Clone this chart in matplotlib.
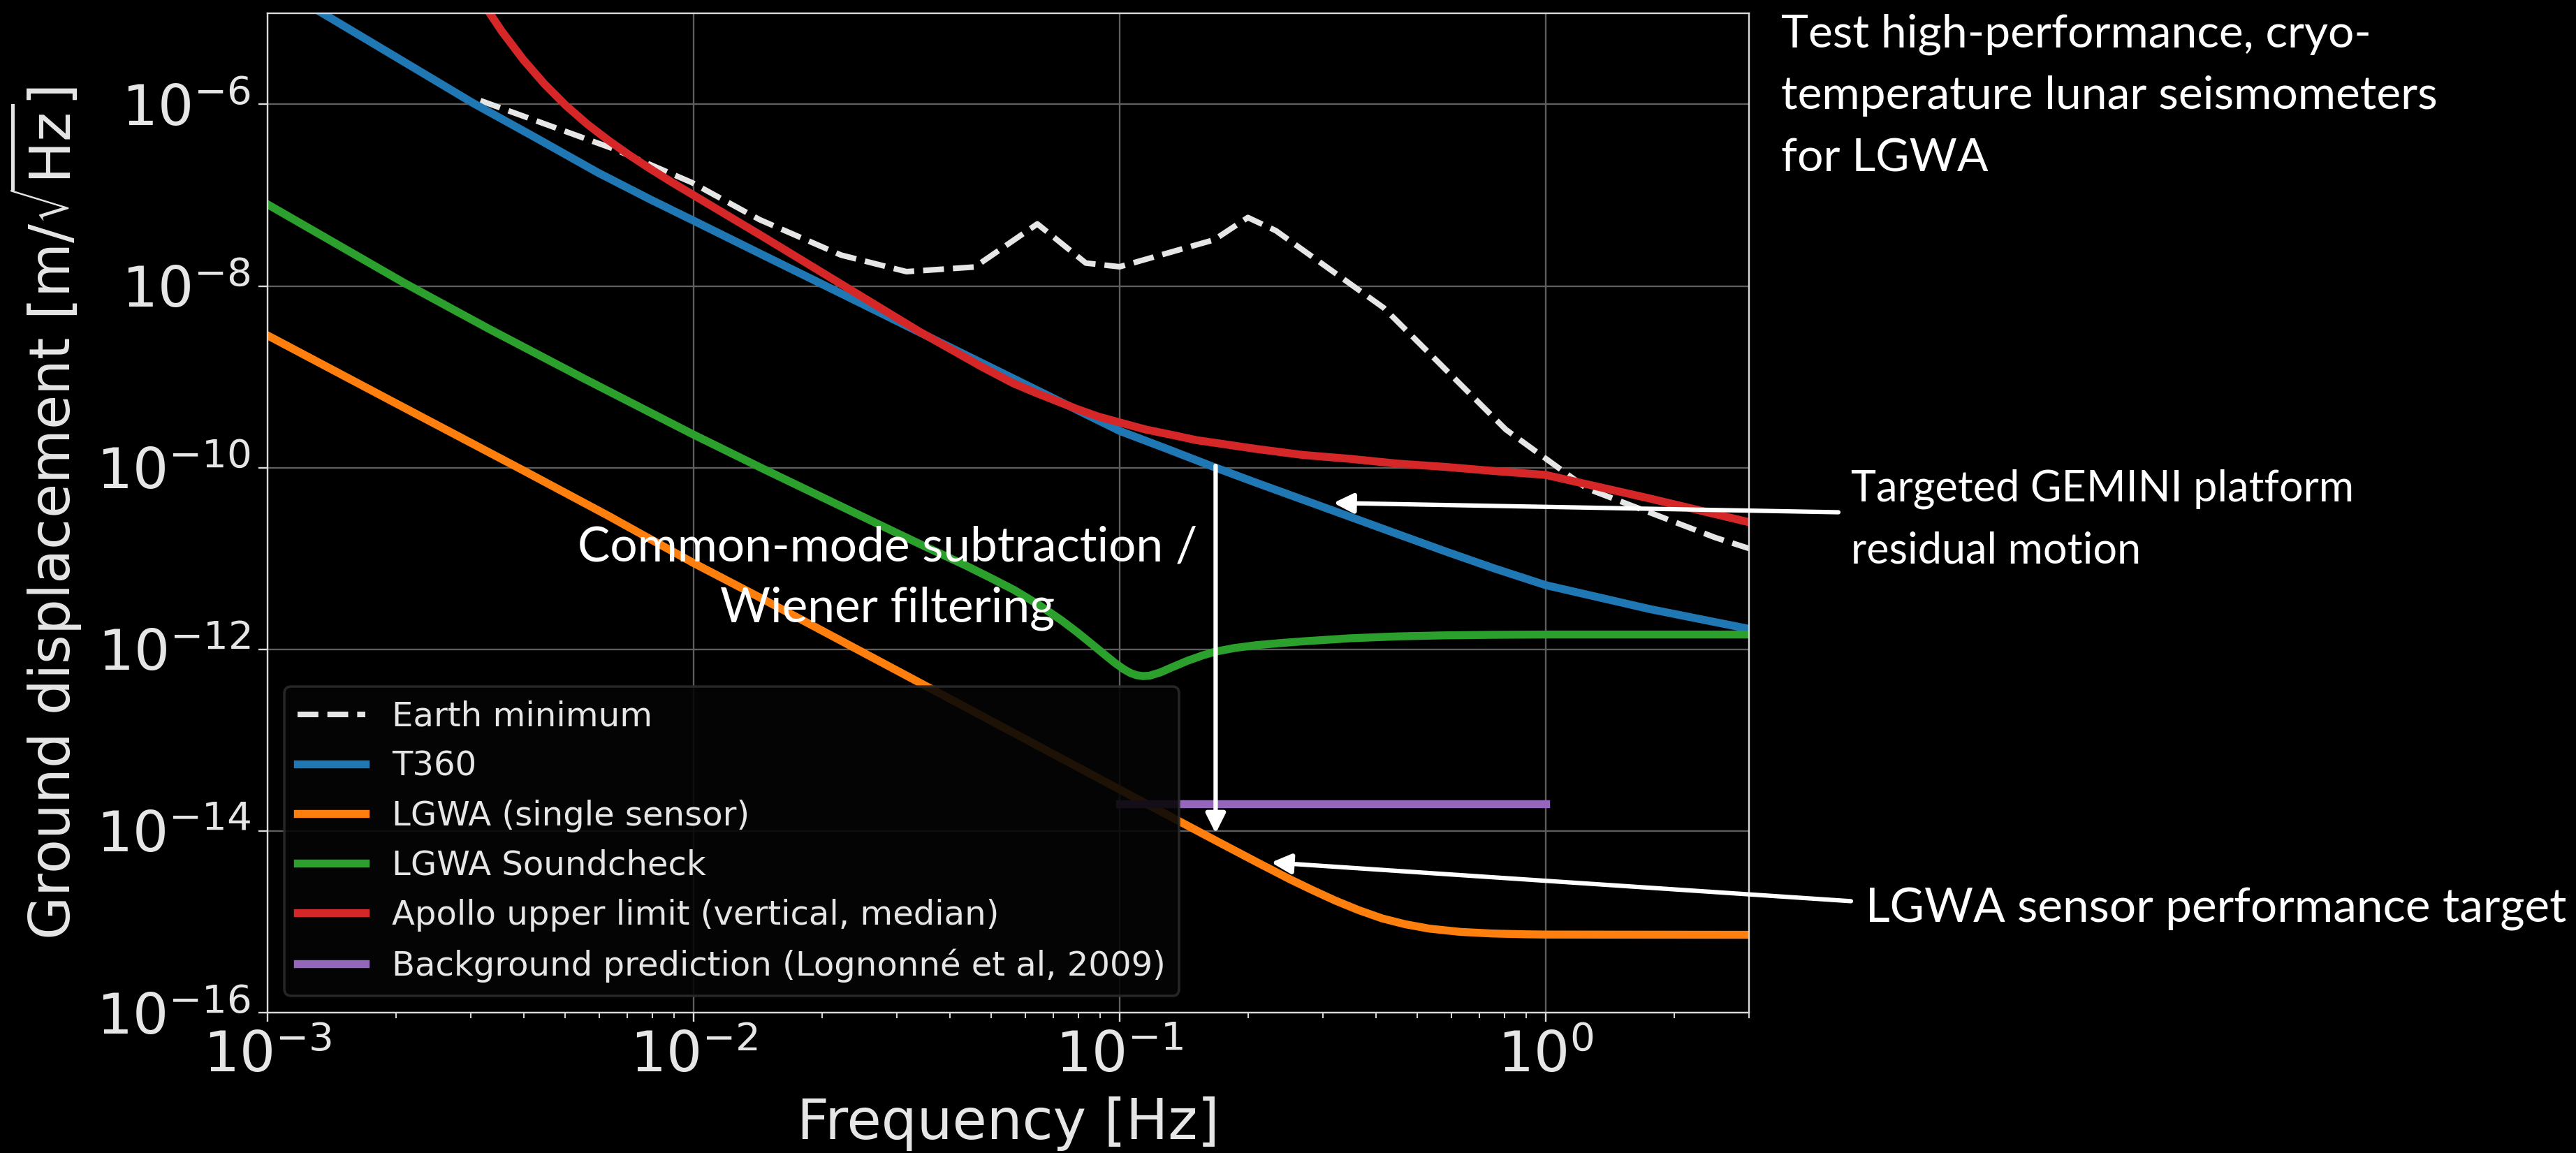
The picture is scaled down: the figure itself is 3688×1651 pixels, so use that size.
import matplotlib
matplotlib.use("Agg")
import matplotlib.pyplot as plt
from matplotlib.ticker import FixedLocator, NullLocator, LogLocator

# ---------------------------------------------------------------------------
# Noise curves (frequency in Hz, ground displacement ASD in m/sqrt(Hz))
# ---------------------------------------------------------------------------
earth_freq = [0.00316, 0.00649, 0.0099, 0.0143, 0.0222, 0.0316, 0.0457, 0.0641,
              0.0833, 0.1, 0.1667, 0.2, 0.2326, 0.4167, 0.806, 1.25, 2.5, 3.0]
earth_disp = [1.10e-6, 3.24e-7, 1.38e-7, 5.37e-8, 2.19e-8, 1.44e-8, 1.62e-8, 4.83e-8,
              1.79e-8, 1.63e-8, 3.23e-8, 5.68e-8, 4.07e-8, 5.75e-9, 2.63e-10, 5.89e-11,
              1.70e-11, 1.29e-11]

t360_freq = [0.00112, 0.00135, 0.00200, 0.00303, 0.00427, 0.00598, 0.00794, 0.01,
             0.01445, 0.0241, 0.0339, 0.0468, 0.0637, 0.0794, 0.1, 0.1288, 0.168,
             0.2089, 0.320, 0.4365, 0.581, 0.7586, 1.0, 1.758, 3.0]
t360_disp = [1.66e-5, 1.0e-5, 3.33e-6, 1.04e-6, 4.27e-7, 1.76e-7, 8.91e-8, 5.24e-8,
             2.23e-8, 6.84e-9, 3.10e-9, 1.47e-9, 7.21e-10, 4.33e-10, 2.54e-10, 1.62e-10,
             1.0e-10, 6.84e-11, 3.31e-11, 1.95e-11, 1.20e-11, 7.76e-12, 5.09e-12,
             2.77e-12, 1.68e-12]

lgwa_freq = [0.001, 0.00198, 0.00391, 0.00631, 0.01, 0.01445, 0.0363, 0.1, 0.1175,
             0.1371, 0.168, 0.209, 0.251, 0.282, 0.320, 0.363, 0.413, 0.468, 0.533,
             0.631, 0.750, 0.891, 1.0, 3.0]
lgwa_disp = [2.86e-9, 5.25e-10, 9.77e-11, 2.95e-11, 8.91e-12, 3.63e-12, 3.63e-13,
             2.86e-14, 1.91e-14, 1.30e-14, 7.85e-15, 4.58e-15, 2.94e-15, 2.26e-15,
             1.72e-15, 1.35e-15, 1.09e-15, 9.40e-16, 8.41e-16, 7.74e-16, 7.43e-16,
             7.29e-16, 7.24e-16, 7.19e-16]

soundcheck_freq = [0.001, 0.00208, 0.0033, 0.0055, 0.01, 0.01445, 0.0221, 0.0339,
                   0.04365, 0.0501, 0.0565, 0.0646, 0.0730, 0.0794, 0.0865, 0.0923,
                   0.0975, 0.1023, 0.1059, 0.1096, 0.1135, 0.1175, 0.1245, 0.1324,
                   0.1445, 0.157, 0.168, 0.1862, 0.2089, 0.2399, 0.270, 0.348, 0.447,
                   0.581, 0.759, 1.0, 3.0]
soundcheck_disp = [7.94e-8, 1.10e-8, 3.40e-9, 9.70e-10, 2.31e-10, 9.89e-11, 3.79e-11,
                   1.45e-11, 8.32e-12, 6.03e-12, 4.51e-12, 3.09e-12, 2.09e-12, 1.55e-12,
                   1.12e-12, 8.71e-13, 7.08e-13, 6.03e-13, 5.50e-13, 5.19e-13, 5.07e-13,
                   5.13e-13, 5.56e-13, 6.31e-13, 7.50e-13, 8.61e-13, 9.44e-13, 1.035e-12,
                   1.11e-12, 1.175e-12, 1.225e-12, 1.324e-12, 1.387e-12, 1.426e-12,
                   1.445e-12, 1.455e-12, 1.455e-12]

apollo_freq = [0.003162, 0.003327, 0.003548, 0.003981, 0.004467, 0.005012, 0.005623,
               0.00631, 0.007079, 0.007943, 0.008913, 0.01, 0.01445, 0.02213, 0.03388,
               0.04764, 0.05623, 0.06368, 0.07943, 0.08913, 0.1, 0.1148, 0.1324, 0.1514,
               0.171, 0.2089, 0.2692, 0.3483, 0.4467, 0.5808, 0.7586, 1.0, 1.758, 3.0]
apollo_disp = [1.46e-5, 1.0e-5, 6.37e-6, 3.12e-6, 1.675e-6, 9.75e-7, 6.08e-7, 4.02e-7,
               2.75e-7, 1.93e-7, 1.38e-7, 1.0e-7, 3.57e-8, 1.06e-8, 3.15e-9, 1.28e-9,
               8.51e-10, 6.65e-10, 4.42e-10, 3.65e-10, 3.15e-10, 2.64e-10, 2.30e-10,
               2.01e-10, 1.85e-10, 1.61e-10, 1.38e-10, 1.25e-10, 1.11e-10, 1.02e-10,
               9.18e-11, 8.32e-11, 4.57e-11, 2.51e-11]

background_freq = [0.1, 1.0]
background_disp = [2e-14, 2e-14]

series_labels = ["Earth minimum", "T360", "LGWA (single sensor)", "LGWA Soundcheck",
                 "Apollo upper limit (vertical, median)",
                 "Background prediction (Lognonn\u00e9 et al, 2009)"]
series_colors = ["#e6e6e6", "#1f77b4", "#ff7f0e", "#2ca02c", "#d62728", "#9467bd"]

x_ticks = [1e-3, 1e-2, 1e-1, 1e0]
y_ticks = [1e-16, 1e-14, 1e-12, 1e-10, 1e-8, 1e-6]

# ---------------------------------------------------------------------------
W, H = 3688, 1651
fig = plt.figure(figsize=(W / 100, H / 100), dpi=100, facecolor="black")
ax = fig.add_axes([383 / W, 1 - 1450 / H, 2121 / W, 1430.6 / H], facecolor="black")

LW = 8.2
ax.plot(earth_freq, earth_disp, ls="--", lw=5.8, color=series_colors[0], label=series_labels[0])
ax.plot(t360_freq, t360_disp, lw=LW, color=series_colors[1], label=series_labels[1])
ax.plot(lgwa_freq, lgwa_disp, lw=LW, color=series_colors[2], label=series_labels[2])
ax.plot(soundcheck_freq, soundcheck_disp, lw=LW, color=series_colors[3], label=series_labels[3])
ax.plot(apollo_freq, apollo_disp, lw=LW, color=series_colors[4], label=series_labels[4])
ax.plot(background_freq, background_disp, lw=LW, color=series_colors[5], label=series_labels[5])

ax.set_xscale("log")
ax.set_yscale("log")
ax.set_xlim(1e-3, 3)
ax.set_ylim(1e-16, 1e-5)

ax.xaxis.set_major_locator(FixedLocator(x_ticks))
ax.xaxis.set_minor_locator(LogLocator(base=10, subs=range(2, 10), numticks=20))
ax.yaxis.set_major_locator(FixedLocator(y_ticks))
ax.yaxis.set_minor_locator(NullLocator())

ax.grid(True, which="major", color="#5e5e5e", lw=1.7)
ax.set_axisbelow(True)

for sp in ax.spines.values():
    sp.set_color("#d9d9d9")
    sp.set_linewidth(1.7)

ax.tick_params(which="major", length=9.4, width=1.7, pad=8, labelsize=58,
               color="#d9d9d9", labelcolor="#e6e6e6")
ax.tick_params(which="minor", length=5.4, width=1.4, color="#d9d9d9")

ax.set_xlabel("Frequency [Hz]", fontsize=57.8, color="#e6e6e6")
ax.set_ylabel(r"Ground displacement [m/$\sqrt{\mathrm{Hz}}$]", fontsize=57.8, color="#e6e6e6")
ax.xaxis.set_label_coords(0.5, -0.084)
ax.yaxis.set_label_coords(-0.124, 0.5)

leg = ax.legend(loc="lower left", fontsize=34.7, fancybox=True, framealpha=0.9,
                facecolor="#050505", edgecolor="#2a2a2a", labelcolor="#e6e6e6")
leg.get_frame().set_linewidth(2.6)

# ---------------------------------------------------------------------------
# Slide annotations
# ---------------------------------------------------------------------------
def fx(px):
    return px / W


def fy(py):
    return 1 - py / H


text_kw = dict(family="Lato", color="white", va="baseline")

for line, base in zip(["Test high-performance, cryo-",
                       "temperature lunar seismometers",
                       "for LGWA"], [67.7, 156.0, 245.7]):
    fig.text(fx(2550), fy(base), line, fontsize=47.5, ha="left", **text_kw)

for line, base in zip(["Targeted GEMINI platform", "residual motion"], [717.5, 806.5]):
    fig.text(fx(2650), fy(base), line, fontsize=44, ha="left", **text_kw)

fig.text(fx(2671), fy(1320.6), "LGWA sensor performance target", fontsize=48.7,
         ha="left", **text_kw)

for line, base in zip(["Common-mode subtraction /", "Wiener filtering"], [803.5, 890.0]):
    fig.text(fx(1271), fy(base), line, fontsize=50, ha="center", **text_kw)

arrow_kw = dict(arrowstyle="-|>,head_length=1.7,head_width=0.85", mutation_scale=10,
                color="white", lw=4.5, shrinkA=0, shrinkB=0)

# Wiener-filter reduction: from platform residual down to sensor level
ax.annotate("", xy=(0.168, 9.4e-15), xytext=(0.168, 1.05e-10),
            arrowprops=arrow_kw, annotation_clip=False)
# GEMINI platform callout
ax.annotate("", xy=(0.3175, 4.09e-11), xytext=(fx(2632), fy(733.5)),
            textcoords="figure fraction", arrowprops=arrow_kw, annotation_clip=False)
# sensor target callout
ax.annotate("", xy=(0.2268, 4.5e-15), xytext=(fx(2650), fy(1290.4)),
            textcoords="figure fraction", arrowprops=arrow_kw, annotation_clip=False)

fig.savefig("out.png", dpi=100, facecolor="black")
